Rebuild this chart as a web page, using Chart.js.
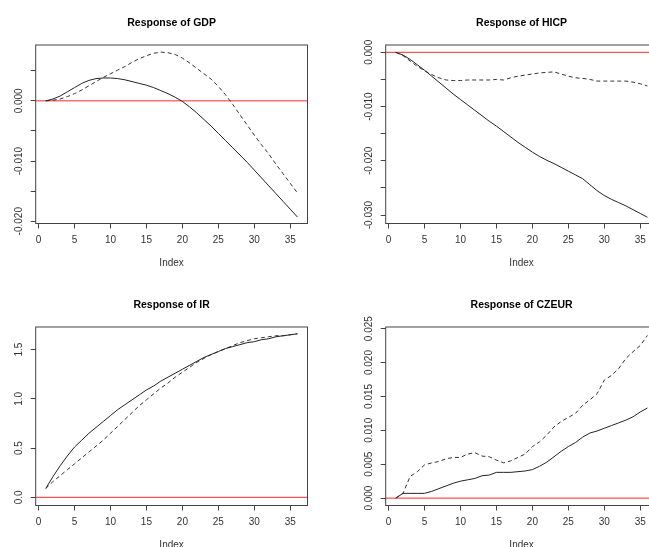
<!DOCTYPE html>
<html><head><meta charset="utf-8">
<script src="https://cdn.jsdelivr.net/npm/chart.js@4.4.1/dist/chart.umd.min.js"></script>
<style>
html,body{margin:0;padding:0;background:#fff;overflow:hidden;width:649px;height:547px;}
.p{position:absolute;width:350px;height:282px;}
canvas{display:block;}
</style></head><body>
<div class="p" style="left:0;top:0"><canvas id="c0" width="350" height="282"></canvas></div>
<div class="p" style="left:350px;top:0"><canvas id="c1" width="350" height="282"></canvas></div>
<div class="p" style="left:0;top:282px"><canvas id="c2" width="350" height="282"></canvas></div>
<div class="p" style="left:350px;top:282px"><canvas id="c3" width="350" height="282"></canvas></div>
<script>
// ---- data ----
const steps = [1,2,3,4,5,6,7,8,9,10,11,12,13,14,15,16,17,18,19,20,21,22,23,24,25,26,27,28,29,30,31,32,33,34,35,36];
const xTicks = [0,5,10,15,20,25,30,35];

const titles = ['Response of GDP','Response of HICP','Response of IR','Response of CZEUR'];

const gdpSolid = [0.0000,0.0003,0.0008,0.0015,0.0022,0.0029,0.0034,0.0037,0.0038,0.0038,0.0037,0.0035,0.0032,0.0029,0.0026,0.0022,0.0017,0.0012,0.0006,-0.0001,-0.0010,-0.0020,-0.0031,-0.0042,-0.0054,-0.0066,-0.0078,-0.0090,-0.0102,-0.0115,-0.0128,-0.0141,-0.0154,-0.0167,-0.0180,-0.0193];
const gdpDashed = [0.0000,0.0001,0.0003,0.0007,0.0012,0.0018,0.0025,0.0032,0.0039,0.0045,0.0051,0.0057,0.0064,0.0070,0.0075,0.0079,0.0081,0.0080,0.0077,0.0071,0.0063,0.0054,0.0045,0.0036,0.0024,0.0010,-0.0006,-0.0023,-0.0040,-0.0057,-0.0073,-0.0088,-0.0105,-0.0121,-0.0137,-0.0153];

const hicpSolid = [0.0000,-0.0005,-0.0013,-0.0023,-0.0033,-0.0044,-0.0055,-0.0066,-0.0077,-0.0087,-0.0097,-0.0107,-0.0117,-0.0127,-0.0136,-0.0146,-0.0156,-0.0166,-0.0175,-0.0184,-0.0192,-0.0199,-0.0205,-0.0212,-0.0219,-0.0226,-0.0233,-0.0244,-0.0255,-0.0264,-0.0271,-0.0277,-0.0283,-0.0290,-0.0297,-0.0304];
const hicpDashed = [0.0000,-0.0006,-0.0016,-0.0026,-0.0034,-0.0041,-0.0047,-0.0051,-0.0052,-0.0052,-0.0051,-0.0051,-0.0051,-0.0051,-0.0050,-0.0051,-0.0047,-0.0044,-0.0042,-0.0040,-0.0038,-0.0037,-0.0036,-0.0040,-0.0044,-0.0047,-0.0048,-0.0050,-0.0053,-0.0053,-0.0053,-0.0053,-0.0053,-0.0055,-0.0058,-0.0062];

const irSolid = [0.09,0.21,0.32,0.42,0.51,0.58,0.65,0.71,0.77,0.83,0.89,0.94,0.99,1.04,1.09,1.13,1.18,1.22,1.26,1.30,1.34,1.38,1.42,1.45,1.48,1.51,1.53,1.55,1.57,1.58,1.60,1.61,1.63,1.64,1.65,1.66];
const irDashed = [0.09,0.16,0.22,0.28,0.34,0.40,0.46,0.52,0.58,0.65,0.72,0.79,0.86,0.93,0.99,1.05,1.11,1.16,1.22,1.27,1.32,1.37,1.41,1.45,1.48,1.51,1.54,1.57,1.59,1.61,1.62,1.63,1.64,1.64,1.65,1.66];

const czeurSolid = [0.0000,0.0007,0.0007,0.0007,0.0007,0.0010,0.0014,0.0018,0.0022,0.0025,0.0027,0.0029,0.0033,0.0034,0.0038,0.0038,0.0038,0.0039,0.0040,0.0042,0.0047,0.0053,0.0061,0.0069,0.0076,0.0082,0.0090,0.0096,0.0099,0.0103,0.0107,0.0111,0.0115,0.0120,0.0127,0.0133];
const czeurDashed = [0.0000,0.0007,0.0032,0.0039,0.0049,0.0052,0.0054,0.0058,0.0060,0.0060,0.0065,0.0067,0.0062,0.0061,0.0056,0.0052,0.0055,0.0060,0.0065,0.0076,0.0083,0.0093,0.0105,0.0113,0.0119,0.0125,0.0137,0.0145,0.0154,0.0174,0.0181,0.0191,0.0206,0.0216,0.0225,0.0240];

const gdpTicks = [-0.020,-0.015,-0.010,-0.005,0.000,0.005];
const gdpTickLabels = ['-0.020','','-0.010','','0.000',''];
const hicpTicks = [-0.030,-0.025,-0.020,-0.015,-0.010,-0.005,0.000];
const hicpTickLabels = ['-0.030','','-0.020','','-0.010','','0.000'];
const irTicks = [0.0,0.5,1.0,1.5];
const irTickLabels = ['0.0','0.5','1.0','1.5'];
const czeurTicks = [0.000,0.005,0.010,0.015,0.020,0.025];
const czeurTickLabels = ['0.000','0.005','0.010','0.015','0.020','0.025'];

const gdpRange = [-0.02038, 0.00928];
const hicpRange = [-0.03155, 0.00135];
const irRange = [-0.083, 1.729];
const czeurRange = [-0.00109, 0.02524];
const xRange = [-0.4, 37.4];

// ---- drawing ----
const FONT = '"Liberation Sans", Arial, sans-serif';
const TICKFONT = 10;
const mctx = document.createElement('canvas').getContext('2d');
mctx.font = TICKFONT + 'px ' + FONT;

const frame = {
  id: 'frame',
  beforeDatasetsDraw(chart) {
    const {ctx, chartArea: a, scales: {y}} = chart;
    const py = y.getPixelForValue(0);
    ctx.save();
    ctx.strokeStyle = '#ff2a2a';
    ctx.lineWidth = 1;
    ctx.beginPath(); ctx.moveTo(a.left, py); ctx.lineTo(a.right, py); ctx.stroke();
    ctx.restore();
  },
  afterDraw(chart) {
    const {ctx, chartArea: a} = chart;
    ctx.save();
    ctx.strokeStyle = '#444';
    ctx.lineWidth = 1;
    ctx.strokeRect(a.left, a.top, a.right - a.left, a.bottom - a.top);
    ctx.restore();
  }
};

function pts(arr) { return arr.map((v, i) => ({x: steps[i], y: v})); }

function makeChart(id, title, solid, dashed, yTicks, yLabels, yRange) {
  const widest = Math.max(...yLabels.filter(s => s).map(s => mctx.measureText(s).width));
  const yPad = 35.7 - 5 - widest / 2 - 19.3;
  new Chart(document.getElementById(id), {
    type: 'line',
    data: {
      datasets: [
        {data: pts(solid), borderColor: '#222', borderWidth: 1, pointRadius: 0, tension: 0, fill: false},
        {data: pts(dashed), borderColor: '#333', borderWidth: 1, borderDash: [4, 3], pointRadius: 0, tension: 0, fill: false}
      ]
    },
    options: {
      responsive: false,
      animation: false,
      devicePixelRatio: 1,
      layout: {padding: {left: 0, right: 42.5, top: 0, bottom: 0}},
      plugins: {
        legend: {display: false},
        tooltip: {enabled: false},
        title: {
          display: true, text: title, color: '#000', fullSize: false,
          font: {family: FONT, size: 10.5, weight: 'bold', lineHeight: 1.2},
          padding: {top: 16.7, bottom: 15.7}
        }
      },
      scales: {
        x: {
          type: 'linear', min: xRange[0], max: xRange[1],
          afterBuildTicks: s => { s.ticks = xTicks.map(v => ({value: v})); },
          afterFit: s => { s.height = 58.5; },
          border: {display: false},
          grid: {drawOnChartArea: false, drawTicks: true, tickLength: 5, color: '#444'},
          ticks: {autoSkip: false, maxRotation: 0, minRotation: 0, padding: 6, color: '#333',
                  font: {family: FONT, size: TICKFONT}, callback: v => String(v)},
          title: {display: true, text: 'Index', color: '#333', font: {family: FONT, size: TICKFONT}, padding: {top: 0, bottom: 12.3}}
        },
        y: {
          type: 'linear', min: yRange[0], max: yRange[1],
          afterBuildTicks: s => { s.ticks = yTicks.map(v => ({value: v})); },
          afterFit: s => { s.width = 35.7; },
          border: {display: false},
          grid: {drawOnChartArea: false, drawTicks: true, tickLength: 5, color: '#444'},
          ticks: {autoSkip: false, minRotation: 90, maxRotation: 90, crossAlign: 'center', padding: yPad, color: '#333',
                  font: {family: FONT, size: TICKFONT},
                  callback: (v, i) => yLabels[i]}
        }
      }
    },
    plugins: [frame]
  });
}

makeChart('c0', titles[0], gdpSolid, gdpDashed, gdpTicks, gdpTickLabels, gdpRange);
makeChart('c1', titles[1], hicpSolid, hicpDashed, hicpTicks, hicpTickLabels, hicpRange);
makeChart('c2', titles[2], irSolid, irDashed, irTicks, irTickLabels, irRange);
makeChart('c3', titles[3], czeurSolid, czeurDashed, czeurTicks, czeurTickLabels, czeurRange);
</script>
</body></html>
